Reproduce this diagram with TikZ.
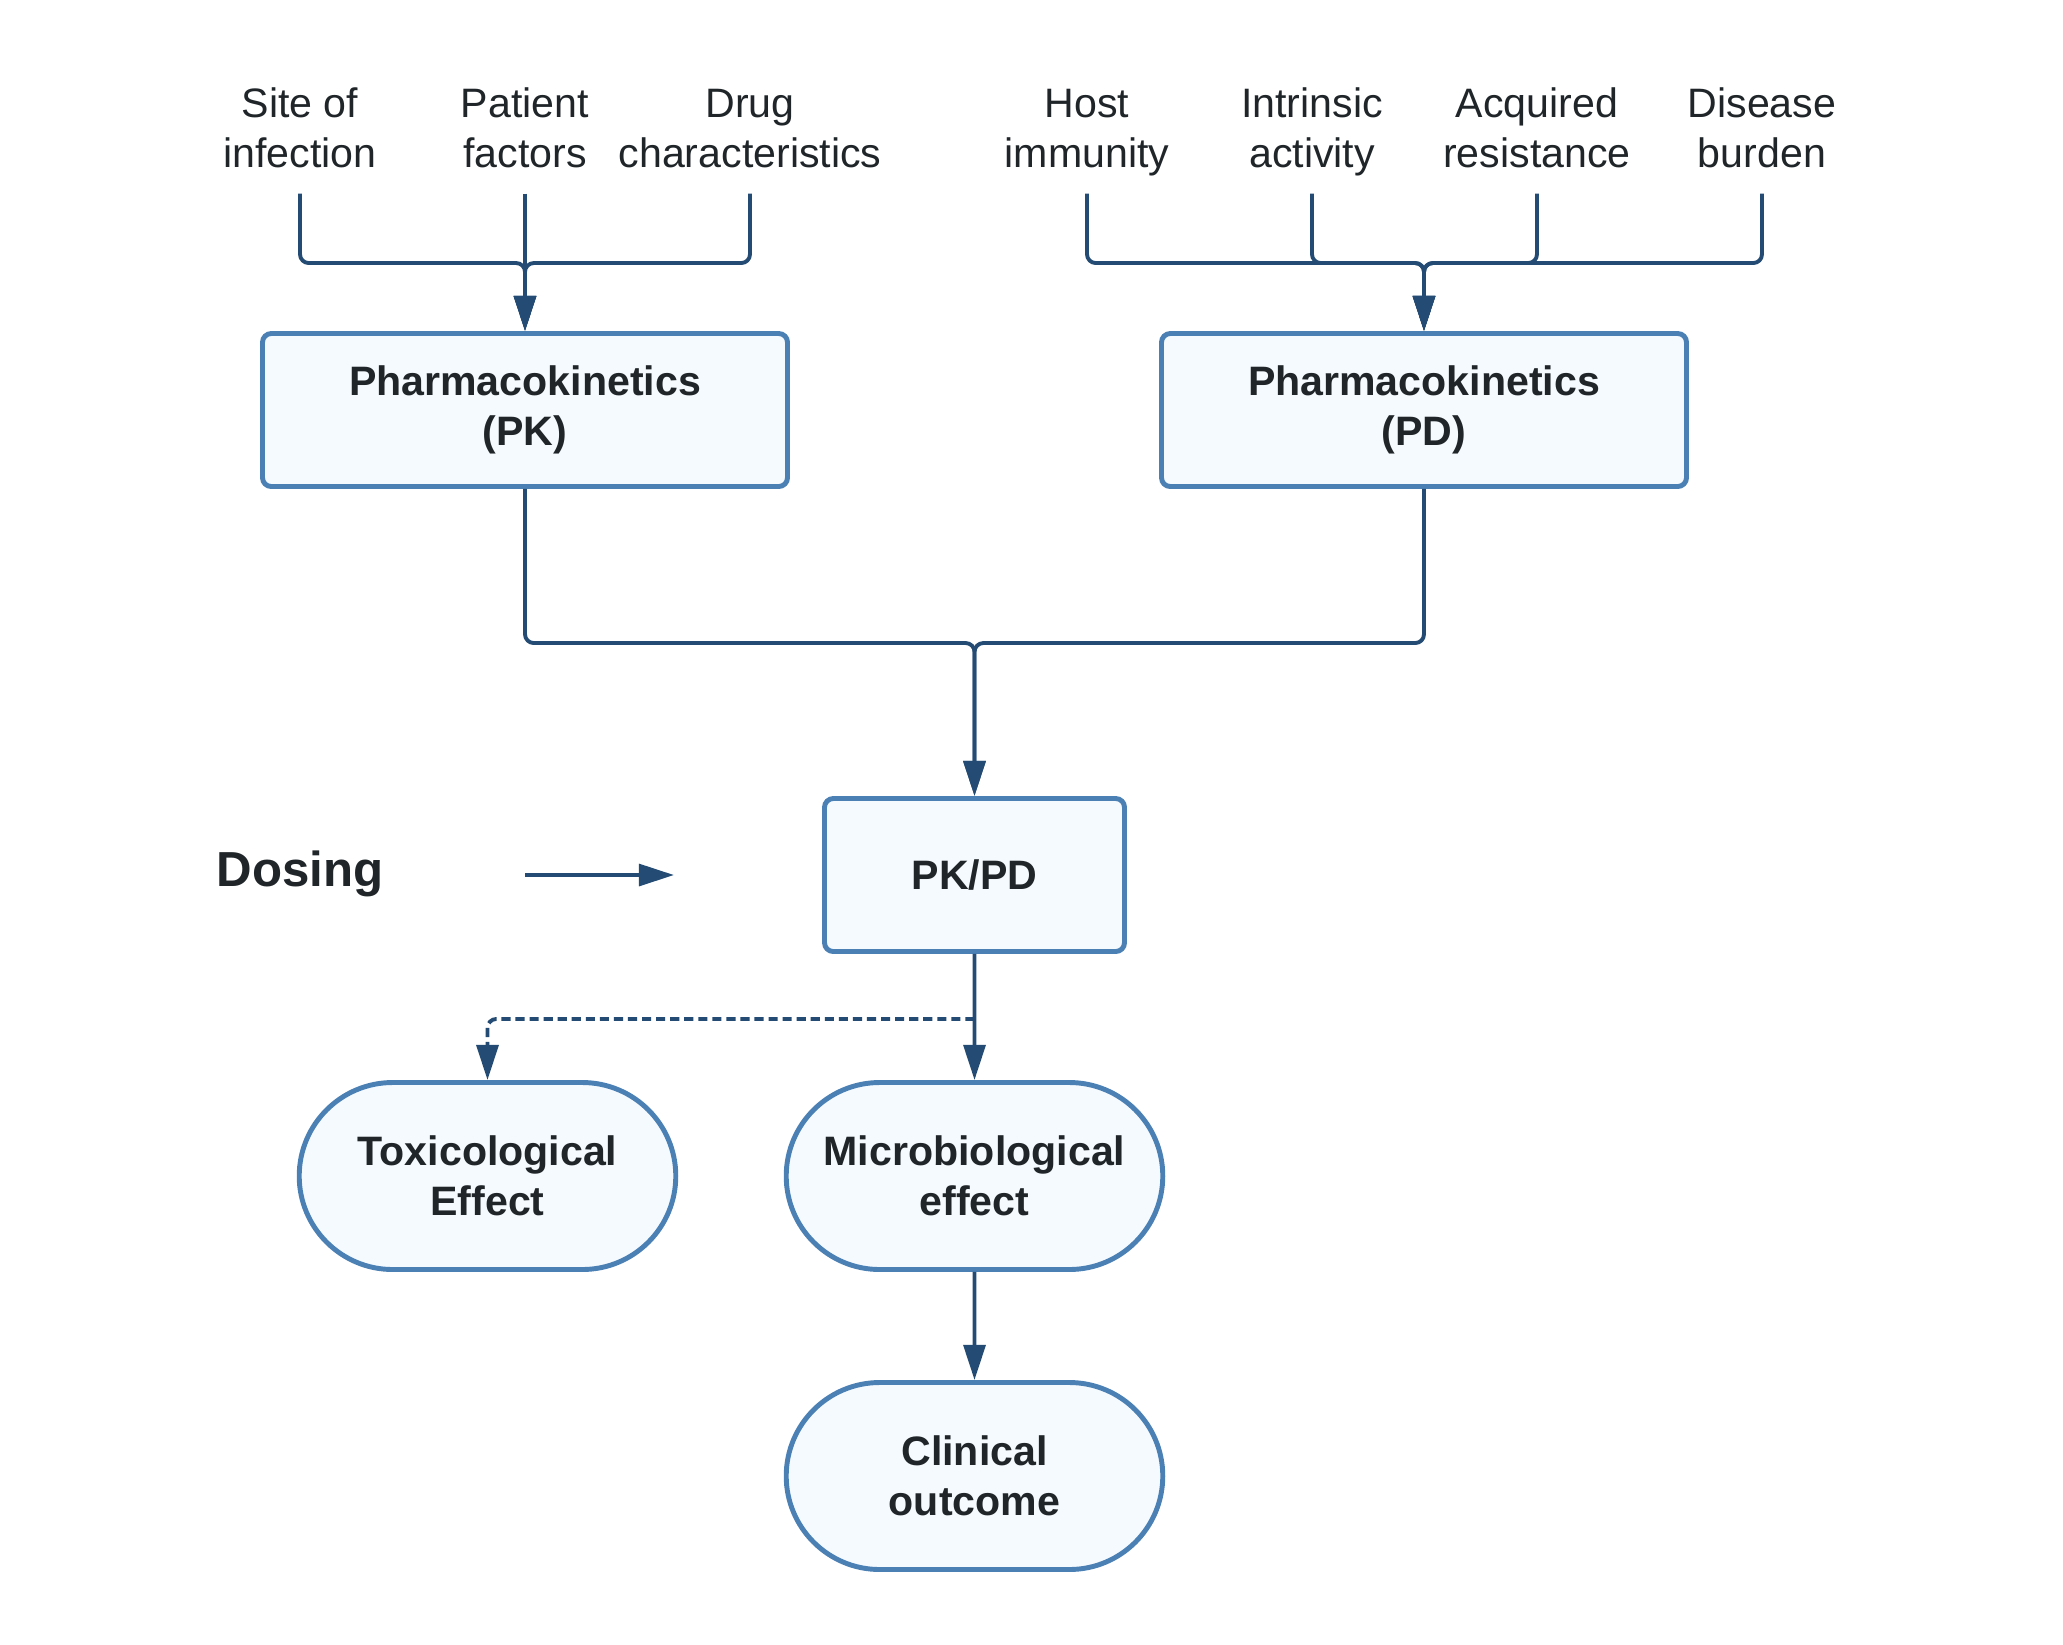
\documentclass[tikz,border=0pt]{standalone}
\usepackage{fontspec}
\setmainfont{Liberation Sans}
\usepackage{tikz}
\usetikzlibrary{positioning, arrows.meta, calc, shapes.misc}
\usepackage{xcolor}
\definecolor{boxline}{HTML}{4A80B4}
\definecolor{boxfill}{HTML}{F5FAFF}
\definecolor{wire}{HTML}{234B73}
\definecolor{ink}{HTML}{1F2529}

\begin{document}
\begin{tikzpicture}[node distance=2.25cm, on grid, >={Triangle[length=10pt, width=6.2pt]},
    every node/.style={text=ink, font=\fontsize{11.7}{14.2}\selectfont},
    factor/.style={align=center, inner sep=0pt, minimum height=1.15cm,
        execute at end node=\strut},
    pkbox/.style={draw=boxline, fill=boxfill, line width=1.4pt, rounded corners=2.5pt,
        align=center, font=\fontsize{11.7}{14.2}\selectfont\bfseries,
        minimum width=5.25cm, minimum height=1.53cm},
    effect/.style={rounded rectangle, draw=boxline, fill=boxfill, line width=1.4pt,
        align=center, font=\fontsize{11.7}{14.2}\selectfont\bfseries,
        minimum width=4cm, minimum height=1.87cm},
    conn/.style={draw=wire, line width=1.1pt, rounded corners=2.5pt}]
    \useasboundingbox (0,0) rectangle (20.63,-16.44);

    % main boxes
    \node[pkbox] (pk) at (5.25,-4.1) {Pharmacokinetics\\(PK)};
    \node[pkbox, right=8.99cm of pk] (pd) {Pharmacokinetics\\(PD)};
    \node[pkbox, minimum width=3cm, below right=4.65cm and 4.495cm of pk] (pkpd) {PK/PD};
    \node[effect, below=3.01cm of pkpd] (micro) {Microbiological\\effect};
    \node[effect, left=4.87cm of micro] (tox) {Toxicological\\Effect};
    \node[effect, below=3cm of micro] (clin) {Clinical\\outcome};

    % factors
    \node[factor, above=2.745cm of pk] (patient) {Patient\\factors};
    \node[factor, left=of patient] (site) {Site of\\infection};
    \node[factor, right=of patient] (drug) {Drug\\characteristics};
    \node[factor, above left=2.745cm and 1.12cm of pd] (intrinsic) {Intrinsic\\activity};
    \node[factor, above right=2.745cm and 1.13cm of pd] (acquired) {Acquired\\resistance};
    \node[factor, left=of intrinsic] (host) {Host\\immunity};
    \node[factor, right=of acquired] (burden) {Disease\\burden};

    % dosing
    \node[font=\fontsize{14}{17}\selectfont\bfseries] (dosing) at (3.0,-8.74) {Dosing};
    \coordinate (dosein) at (5.25,-8.75);
    \coordinate (doseout) at (6.74,-8.75);
    \coordinate (split) at ($(pkpd.south)+(0,-0.65)$);

    \foreach \f in {site, patient, drug}
        \draw[conn, ->] (\f.south) |- ($(pk.north)+(0,0.68)$) -- (pk.north);
    \foreach \f in {host, intrinsic, acquired, burden}
        \draw[conn, ->] (\f.south) |- ($(pd.north)+(0,0.68)$) -- (pd.north);
    \draw[conn, ->] (pk.south) |- ($(pkpd.north)+(0,1.53)$) -- (pkpd.north);
    \draw[conn, ->] (pd.south) |- ($(pkpd.north)+(0,1.53)$) -- (pkpd.north);
    \draw[conn, ->] (dosein) -- (doseout);
    \draw[conn, ->] (pkpd) -- (micro);
    \draw[conn, dash pattern=on 2.6pt off 1.4pt, ->] (split) -| (tox.north);
    \draw[conn, ->] (micro) -- (clin);
\end{tikzpicture}
\end{document}
